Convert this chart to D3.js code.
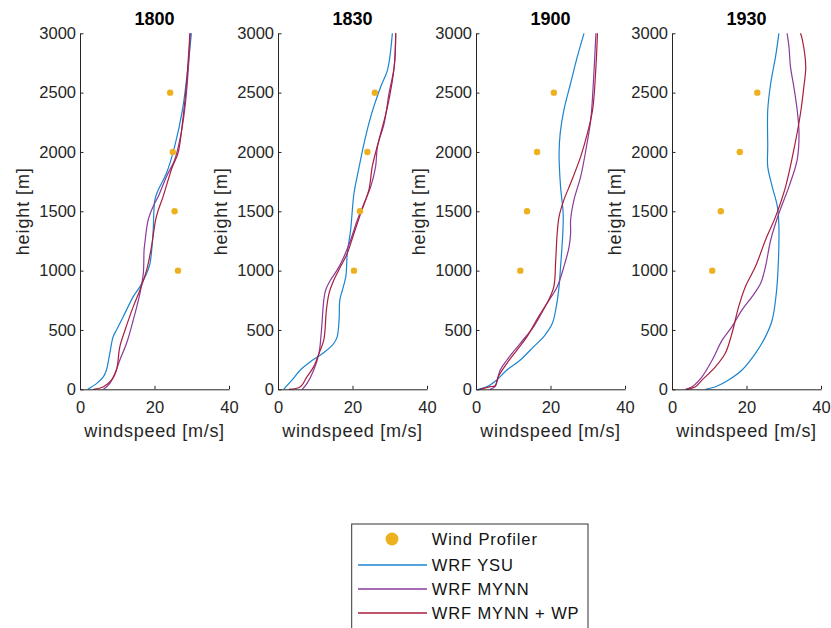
<!DOCTYPE html>
<html>
<head>
<meta charset="utf-8">
<script src="https://cdn.jsdelivr.net/npm/d3@7"></script>
<style>
  body { margin: 0; background: #fff; }
  svg { display: block; font-family: "Liberation Sans", Arial, sans-serif; }
</style>
</head>
<body>
<svg id="chart" width="831" height="628"></svg>
<script>
// panel titles (time of day)
const times = ['1800', '1830', '1900', '1930'];

// wind profiler observations: heights and speed per time
const profilerHeights = [1000, 1500, 2000, 2500];
const profiler1800 = [26.3, 25.4, 24.9, 24.2];
const profiler1830 = [20.4, 22.0, 24.0, 26.0];
const profiler1900 = [11.9, 13.7, 16.4, 20.9];
const profiler1930 = [10.8, 13.1, 18.2, 22.9];

// model profiles as [windspeed, height]
const ysu1800 = [[2.1,0],[4.5,50],[6.3,107],[7.1,163],[8.0,303],[8.9,444],[9.8,500],[11.6,612],[14.3,781],[16.1,865],[17.9,978],[18.8,1062],[19.6,1315],[20.1,1596],[21.0,1680],[23.2,1820],[25.4,2045],[27.5,2354],[29.0,2719],[29.9,3000]];
const mynn1800 = [[6.3,0],[8.0,50],[9.4,135],[10.7,247],[12.5,388],[14.3,584],[16.1,809],[17.0,978],[17.2,1174],[17.4,1230],[18.3,1427],[19.6,1539],[21.0,1624],[23.2,1792],[25.4,1933],[26.8,2101],[28.1,2354],[29.0,2663],[29.6,3000]];
const wp1800 = [[3.6,0],[6.3,22],[8.5,79],[9.8,163],[10.7,360],[12.1,500],[14.3,697],[16.1,837],[17.9,1006],[19.2,1202],[20.5,1455],[22.3,1624],[24.8,1876],[26.3,1989],[27.7,2298],[28.6,2579],[29.5,3000]];

const ysu1830 = [[1.5,0],[3.8,79],[6.0,163],[8.7,233],[11.4,289],[13.7,345],[15.0,388],[15.9,444],[16.4,584],[16.6,753],[17.3,837],[18.2,949],[18.6,1146],[19.5,1343],[20.4,1652],[21.8,1876],[23.1,2073],[24.9,2298],[27.6,2551],[29.4,2691],[30.7,3000]];
const mynn1830 = [[6.5,0],[7.8,50],[9.6,163],[11.0,303],[11.6,472],[12.3,753],[12.8,837],[14.1,921],[15.9,1006],[17.7,1118],[19.5,1258],[21.3,1427],[23.1,1567],[24.9,1708],[26.2,1876],[26.7,2045],[28.5,2242],[29.8,2494],[31.2,2719],[31.6,3000]];
const wp1830 = [[2.9,0],[6.0,22],[7.8,107],[9.6,191],[11.0,303],[12.3,416],[13.0,669],[13.7,809],[15.0,921],[16.8,1034],[18.6,1146],[20.4,1315],[22.2,1483],[24.4,1680],[25.3,1876],[27.1,2101],[29.4,2382],[31.2,2719],[31.6,3000]];

const ysu1900 = [[0.6,0],[2.9,22],[5.6,79],[8.3,163],[11.9,247],[15.5,360],[18.2,444],[20.5,556],[21.4,669],[22.3,865],[22.7,1034],[23.3,1315],[23.4,1483],[22.7,1708],[22.3,1989],[22.6,2157],[23.6,2354],[25.4,2579],[27.2,2803],[29.0,3000]];
const mynn1900 = [[3.8,0],[5.1,22],[6.5,163],[8.3,247],[11.9,388],[15.5,528],[19.1,725],[21.8,865],[23.6,1034],[25.0,1202],[25.4,1315],[25.4,1427],[26.3,1596],[28.1,1792],[29.5,2017],[30.8,2270],[31.5,2579],[32.2,3000]];
const wp1900 = [[1.1,0],[3.8,22],[5.1,30],[6.0,107],[8.3,219],[11.0,331],[13.7,444],[16.8,612],[19.5,753],[20.9,865],[21.4,1090],[21.8,1315],[22.3,1455],[23.6,1596],[25.4,1736],[28.1,1961],[29.9,2157],[31.3,2354],[32.2,2719],[32.6,3000]];

const ysu1930 = [[9.0,0],[11.7,22],[15.2,79],[18.8,163],[22.4,303],[25.1,444],[26.9,584],[28.0,809],[28.5,1034],[28.7,1371],[28.3,1539],[26.9,1708],[25.7,1876],[25.7,2045],[25.7,2354],[26.5,2579],[27.8,2803],[28.7,3000]];
const mynn1930 = [[3.6,0],[5.4,22],[8.1,107],[10.8,247],[13.5,416],[16.1,528],[18.8,669],[21.5,781],[23.8,893],[25.1,1034],[26.5,1258],[28.7,1483],[31.4,1708],[33.6,1933],[34.1,2157],[33.6,2354],[32.7,2551],[31.8,2719],[31.4,2888],[30.9,3000]];
const wp1930 = [[4.0,0],[6.3,22],[8.1,79],[11.7,191],[14.3,303],[16.1,472],[17.9,697],[19.7,865],[22.4,1034],[25.1,1258],[27.8,1455],[30.5,1708],[32.7,2017],[34.5,2326],[35.4,2551],[35.9,2719],[35.0,2944],[34.5,3000]];

const seriesNames = ['Wind Profiler', 'WRF YSU', 'WRF MYNN', 'WRF MYNN + WP'];
const seriesColors = ['#EDB120', '#1b84d0', '#8a3a9a', '#a81f3c'];

const xTicks = [0, 20, 40];
const yTicks = [0, 500, 1000, 1500, 2000, 2500, 3000];

const panels = [
	{ title: times[0], obs: profiler1800, lines: [ysu1800, mynn1800, wp1800] },
	{ title: times[1], obs: profiler1830, lines: [ysu1830, mynn1830, wp1830] },
	{ title: times[2], obs: profiler1900, lines: [ysu1900, mynn1900, wp1900] },
	{ title: times[3], obs: profiler1930, lines: [ysu1930, mynn1930, wp1930] }
];

const svg = d3.select('#chart');
const axisColor = '#262626';
const panelLefts = [80, 278, 476, 672];
const plotTop = 33.3, plotW = 149, plotH = 356;

const xScale = d3.scaleLinear().domain([0, 40]).range([0, plotW]);
const yScale = d3.scaleLinear().domain([0, 3000]).range([plotH, 0]);

const line = d3.line()
	.curve(d3.curveCatmullRom.alpha(0.5))
	.x(d => xScale(d[0]))
	.y(d => yScale(d[1]));

panels.forEach((p, i) => {
	const g = svg.append('g')
		.attr('transform', `translate(${panelLefts[i]}, ${plotTop})`);

	// model lines
	p.lines.forEach((pts, j) => {
		g.append('path')
			.datum(pts)
			.attr('d', line)
			.attr('fill', 'none')
			.attr('stroke', seriesColors[j + 1])
			.attr('stroke-width', 1.2);
	});

	// profiler dots
	g.selectAll('circle.obs')
		.data(p.obs.map((v, k) => [v, profilerHeights[k]]))
		.enter()
		.append('circle')
		.attr('class', 'obs')
		.attr('cx', d => xScale(d[0]))
		.attr('cy', d => yScale(d[1]))
		.attr('r', 3.2)
		.attr('fill', seriesColors[0]);

	const yAxis = g.append('g')
		.call(d3.axisLeft(yScale).tickValues(yTicks).tickFormat(d3.format('d'))
			.tickSizeInner(-3.5).tickSizeOuter(0).tickPadding(4));
	const xAxis = g.append('g')
		.attr('transform', `translate(0, ${plotH})`)
		.call(d3.axisBottom(xScale).tickValues(xTicks).tickFormat(d3.format('d'))
			.tickSizeInner(-3.5).tickSizeOuter(0).tickPadding(12));

	[xAxis, yAxis].forEach(ax => {
		ax.select('.domain').attr('stroke', axisColor);
		ax.selectAll('.tick line').attr('stroke', axisColor);
		ax.selectAll('.tick text')
			.attr('fill', axisColor)
			.style('font-size', '16.5px')
			.style('font-family', '"Liberation Sans", Arial, sans-serif');
	});

	g.append('text')
		.text(p.title)
		.attr('x', plotW / 2)
		.attr('y', 25 - plotTop)
		.attr('text-anchor', 'middle')
		.attr('font-weight', 'bold')
		.attr('font-size', 18)
		.attr('fill', '#000');

	g.append('text')
		.text('windspeed [m/s]')
		.attr('x', plotW / 2)
		.attr('y', plotH + 47.7)
		.attr('text-anchor', 'middle')
		.attr('font-size', 18)
		.attr('letter-spacing', 0.7)
		.attr('fill', axisColor);

	g.append('text')
		.text('height [m]')
		.attr('transform', `translate(-51, ${plotH / 2}) rotate(-90)`)
		.attr('text-anchor', 'middle')
		.attr('font-size', 18)
		.attr('letter-spacing', 0.9)
		.attr('fill', axisColor);
});

// legend
const legend = svg.append('g').attr('transform', 'translate(351.7, 524)');
legend.append('rect')
	.attr('width', 236.3)
	.attr('height', 108)
	.attr('fill', '#fff')
	.attr('stroke', '#333')
	.attr('stroke-width', 1);

const rowY = [15, 41, 65, 89];
const items = legend.selectAll('g.item')
	.data(seriesNames)
	.enter()
	.append('g')
	.attr('class', 'item')
	.attr('transform', (d, i) => `translate(0, ${rowY[i]})`);

items.filter((d, i) => i === 0)
	.append('circle')
	.attr('cx', 40.3)
	.attr('r', 6.5)
	.attr('fill', seriesColors[0]);

items.filter((d, i) => i > 0)
	.append('line')
	.attr('x1', 6.3)
	.attr('x2', 75.3)
	.attr('stroke', (d, i) => seriesColors[i + 1])
	.attr('stroke-width', 1.5);

items.append('text')
	.text(d => d)
	.attr('x', 80)
	.attr('dy', '0.36em')
	.attr('font-size', 16.5)
	.attr('letter-spacing', 0.9)
	.attr('fill', '#111');
</script>
</body>
</html>
